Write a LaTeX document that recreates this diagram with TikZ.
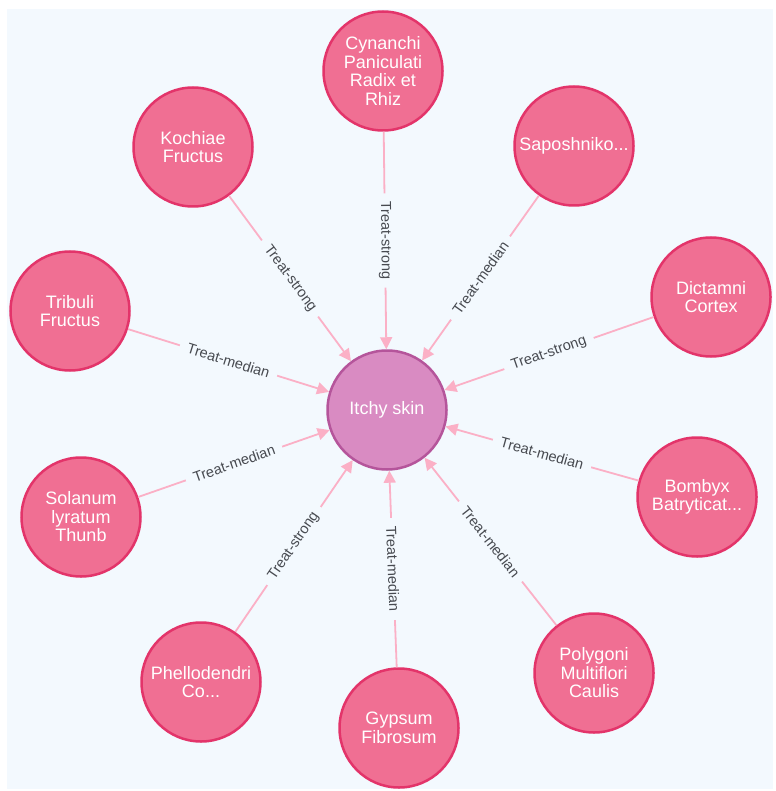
\documentclass[tikz,border=0pt]{standalone}
\usepackage{fontspec}
\setmainfont{Liberation Sans}
\usetikzlibrary{arrows.meta}
\definecolor{bgc}{HTML}{F3F9FE}
\definecolor{herbfill}{HTML}{F06F93}
\definecolor{herbdraw}{HTML}{E3346A}
\definecolor{symfill}{HTML}{D98BC2}
\definecolor{symdraw}{HTML}{B5559B}
\definecolor{edgec}{HTML}{FBB0C6}
\definecolor{lblc}{HTML}{474A50}
\begin{document}
\begin{tikzpicture}[x=1pt,y=-1pt,
  herb/.style={circle,minimum size=119pt,inner sep=0pt,line width=2.5pt,
    fill=herbfill,draw=herbdraw,text=white,align=center,
    font=\fontsize{18}{18.5}\selectfont},
  sym/.style={circle,minimum size=119pt,inner sep=0pt,line width=2.5pt,
    fill=symfill,draw=symdraw,text=white,align=center,
    font=\fontsize{18}{18.5}\selectfont},
  link/.style={draw=edgec,line width=1.8pt,-{Triangle[length=12pt,width=12pt]}},
  lbl/.style={sloped,fill=bgc,text=lblc,inner xsep=8pt,inner ysep=1pt,
    font=\fontsize{14.5}{15}\selectfont}]
\useasboundingbox (0,0) rectangle (775,791);
\fill[bgc] (7,9) rectangle (773,789);
\node[sym]  (itch) at (387,410) {Itchy skin};
\node[herb] (cyn) at (383,71)  {Cynanchi\\Paniculati\\Radix et\\Rhiz};
\node[herb] (koc) at (193,147) {Kochiae\\Fructus};
\node[herb] (sap) at (574,146) {Saposhniko...};
\node[herb] (tri) at (70,311)  {Tribuli\\Fructus};
\node[herb] (dic) at (711,297) {Dictamni\\Cortex};
\node[herb] (sol) at (81,517)  {Solanum\\lyratum\\Thunb};
\node[herb] (bom) at (697,497) {Bombyx\\Batryticat...};
\node[herb] (phe) at (201,682) {Phellodendri\\Co...};
\node[herb] (gyp) at (399,728) {Gypsum\\Fibrosum};
\node[herb] (pol) at (594,673) {Polygoni\\Multiflori\\Caulis};
\draw[link] (cyn) -- node[lbl]{Treat-strong} (itch);
\draw[link] (koc) -- node[lbl]{Treat-strong} (itch);
\draw[link] (sap) -- node[lbl]{Treat-median} (itch);
\draw[link] (tri) -- node[lbl]{Treat-median} (itch);
\draw[link] (dic) -- node[lbl]{Treat-strong} (itch);
\draw[link] (sol) -- node[lbl]{Treat-median} (itch);
\draw[link] (bom) -- node[lbl]{Treat-median} (itch);
\draw[link] (phe) -- node[lbl]{Treat-strong} (itch);
\draw[link] (gyp) -- node[lbl]{Treat-median} (itch);
\draw[link] (pol) -- node[lbl]{Treat-median} (itch);
\end{tikzpicture}
\end{document}
